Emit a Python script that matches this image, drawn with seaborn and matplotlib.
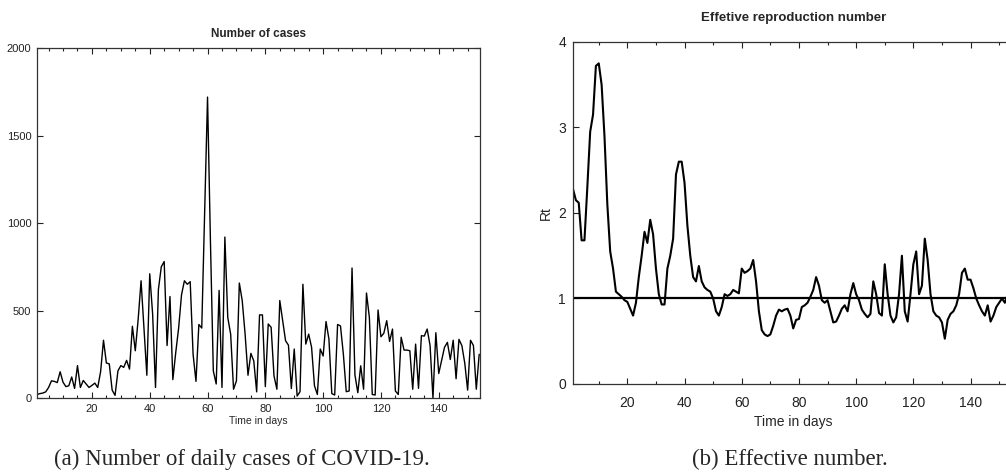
import matplotlib
matplotlib.use("Agg")
import matplotlib.pyplot as plt
import seaborn as sns
import numpy as np
import pandas as pd
from matplotlib.ticker import MultipleLocator

# daily cases, day 1..154
cases = [20, 25, 28, 35, 60, 98, 95, 88, 150, 90,
         65, 70, 120, 55, 185, 60, 100, 80, 60, 72,
         85, 60, 150, 330, 200, 195, 45, 15, 155, 185,
         175, 215, 165, 410, 270, 450, 670, 400, 130, 710,
         480, 60, 620, 750, 780, 300, 580, 105, 260, 400,
         590, 670, 650, 665, 250, 95, 420, 400, 1060, 1720,
         900, 155, 80, 615, 60, 920, 460, 365, 50, 98,
         657, 557, 365, 130, 255, 212, 35, 475, 475, 65,
         423, 404, 126, 50, 557, 442, 327, 302, 54, 280,
         11, 36, 650, 308, 365, 290, 70, 20, 280, 240,
         437, 337, 25, 17, 420, 412, 250, 36, 40, 743,
         132, 30, 184, 50, 600, 460, 20, 17, 503, 350,
         370, 442, 323, 394, 40, 20, 347, 274, 274, 270,
         50, 308, 55, 356, 354, 394, 300, 0, 373, 140,
         216, 290, 318, 220, 330, 110, 335, 300, 200, 45,
         330, 300, 50, 250]

# effective reproduction number, day 1..154
rt = [2.28, 2.15, 2.12, 1.68, 1.68, 2.3, 2.95, 3.15, 3.72, 3.75,
      3.5, 2.9, 2.1, 1.55, 1.35, 1.08, 1.05, 1.02, 0.98, 0.96,
      0.88, 0.8, 0.95, 1.25, 1.5, 1.78, 1.65, 1.92, 1.75, 1.35,
      1.05, 0.93, 0.93, 1.35, 1.5, 1.7, 2.45, 2.6, 2.6, 2.35,
      1.85, 1.5, 1.25, 1.2, 1.38, 1.2, 1.13, 1.1, 1.08, 1.0,
      0.85, 0.8, 0.9, 1.05, 1.03, 1.05, 1.1, 1.08, 1.06, 1.35,
      1.3, 1.32, 1.35, 1.45, 1.2, 0.85, 0.63, 0.58, 0.56, 0.58,
      0.68, 0.8, 0.87, 0.85, 0.87, 0.88, 0.8, 0.65, 0.75, 0.76,
      0.9, 0.92, 0.95, 1.02, 1.1, 1.25, 1.15, 0.98, 0.95, 0.98,
      0.85, 0.72, 0.73, 0.8, 0.88, 0.92, 0.85, 1.05, 1.18, 1.05,
      0.98, 0.87, 0.82, 0.78, 0.82, 1.2, 1.05, 0.83, 0.8, 1.4,
      1.05, 0.8, 0.72, 0.78, 1.05, 1.5, 0.85, 0.73, 1.05, 1.4,
      1.55, 1.05, 1.15, 1.7, 1.45, 1.05, 0.85, 0.8, 0.78, 0.72,
      0.53, 0.75, 0.82, 0.85, 0.92, 1.05, 1.3, 1.35, 1.22, 1.22,
      1.12, 1.0, 0.92, 0.85, 0.8, 0.92, 0.73, 0.8, 0.9, 0.95,
      1.0, 0.95, 1.05, 1.1]

days = np.arange(1, len(cases) + 1)
df = pd.DataFrame({"day": days, "cases": cases, "rt": rt})

sns.set_style("ticks")
plt.rcParams['font.family'] = ['Liberation Sans', 'DejaVu Sans']

fig = plt.figure(figsize=(10.06, 4.76), dpi=100)
ax1 = fig.add_axes([0.0368, 0.1639, 0.4404, 0.735])
# right panel runs past the page edge, as in the original crop
ax2 = fig.add_axes([0.5696, 0.1933, 0.4378, 0.7185])

spine_col = '#333333'

# left: number of cases
sns.lineplot(data=df, x="day", y="cases", ax=ax1, color='black', linewidth=1.0)
ax1.set_xlim(1, 154.3)
ax1.set_ylim(0, 2000)
ax1.set_yticks([0, 500, 1000, 1500, 2000])
ax1.set_xticks(range(20, 141, 20))
ax1.xaxis.set_minor_locator(MultipleLocator(5))
ax1.set_title("Number of cases", fontsize=8.5, fontweight='bold', pad=8)
ax1.set_xlabel("Time in days", fontsize=7.5, labelpad=2)
ax1.set_ylabel("")
ax1.tick_params(which='both', direction='in', top=True, right=True,
                labelsize=8, colors='#222222', width=0.8)
ax1.tick_params(which='major', length=4, pad=4)
ax1.tick_params(which='minor', length=2)

# right: effective reproduction number
sns.lineplot(data=df, x="day", y="rt", ax=ax2, color='black', linewidth=1.5)
ax2.axhline(1, color='black', linewidth=1.6)
ax2.set_xlim(1, 155)
ax2.set_ylim(0, 4)
ax2.set_yticks([0, 1, 2, 3, 4])
ax2.set_xticks(range(20, 141, 20))
ax2.xaxis.set_minor_locator(MultipleLocator(10))
ax2.set_title("Effetive reproduction number", fontsize=9.5, fontweight='bold', pad=15)
ax2.set_xlabel("Time in days", fontsize=10, labelpad=3)
ax2.set_ylabel("Rt", fontsize=10, labelpad=4)
ax2.tick_params(which='both', direction='in', top=True, right=True,
                labelsize=10, colors='#222222', width=0.8)
ax2.tick_params(which='major', length=4, pad=9)
ax2.tick_params(axis='y', which='major', pad=5)
ax2.tick_params(which='minor', length=2)

for ax in (ax1, ax2):
    for s in ax.spines.values():
        s.set_color(spine_col)
        s.set_linewidth(0.9)

fig.text(0.2405, 0.034, "(a) Number of daily cases of COVID-19.", ha='center', va='center',
         fontsize=16.5, family='Liberation Serif')
fig.text(0.7855, 0.034, "(b) Effective number.", ha='center', va='center',
         fontsize=16.5, family='Liberation Serif')

fig.savefig("out.png", dpi=100)
